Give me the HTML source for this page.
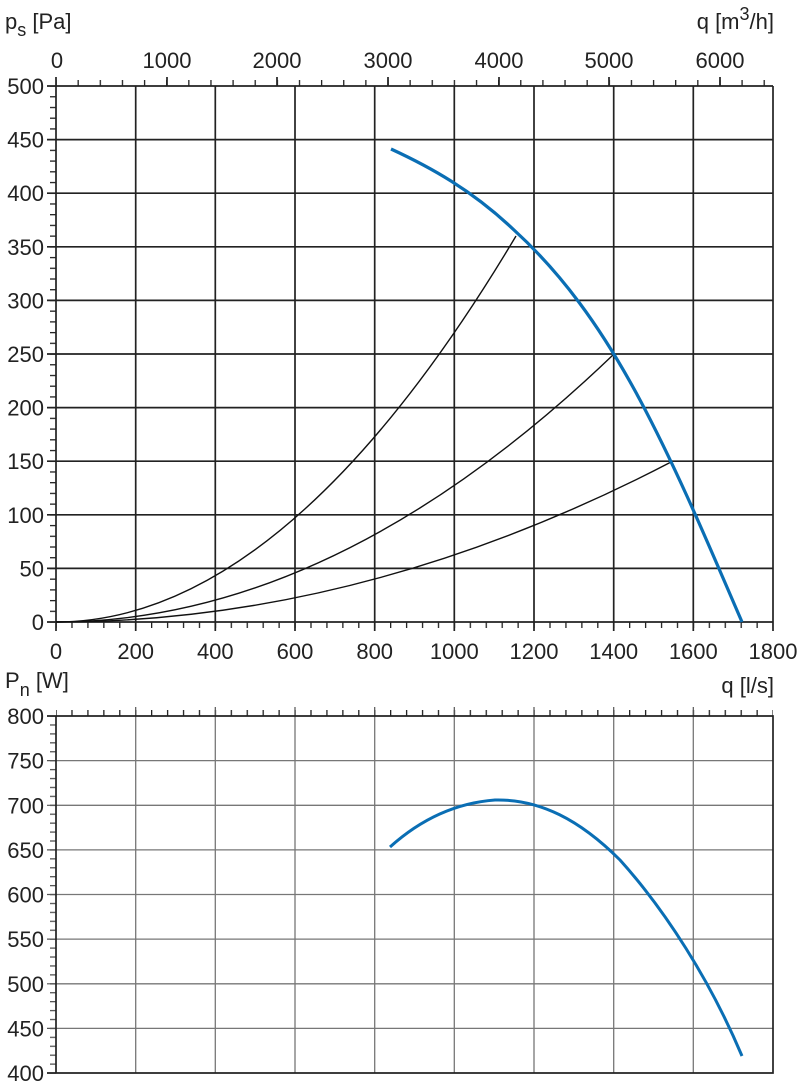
<!DOCTYPE html>
<html><head><style>
html,body{margin:0;padding:0;background:#fff;}
svg{display:block;font-family:"Liberation Sans",Arial,sans-serif;}
</style></head><body>
<svg width="800" height="1085" viewBox="0 0 800 1085" xmlns="http://www.w3.org/2000/svg">
<defs>
<pattern id="ty1" patternUnits="userSpaceOnUse" x="0" y="85.4" width="10" height="10.72"><rect x="0" y="0" width="10" height="1.3" fill="#222"/></pattern>
<pattern id="tx1" patternUnits="userSpaceOnUse" x="55.4" y="0" width="15.934" height="10"><rect x="0" y="0" width="1.3" height="10" fill="#222"/></pattern>
<pattern id="tm" patternUnits="userSpaceOnUse" x="55.4" y="0" width="22.13" height="10"><rect x="0" y="0" width="1.3" height="10" fill="#222"/></pattern>
<pattern id="ty2" patternUnits="userSpaceOnUse" x="0" y="715.4" width="10" height="8.925"><rect x="0" y="0" width="10" height="1.3" fill="#555"/></pattern>
</defs>

<rect x="50" y="86" width="6" height="537" fill="url(#ty1)"/>
<rect x="56" y="622" width="717" height="6" fill="url(#tx1)"/>
<rect x="56" y="80" width="717" height="6" fill="url(#tm)"/>
<g stroke="#222" stroke-width="1.7">
<path d="M56 77v9M167 77v9M277 77v9M388 77v9M499 77v9M609 77v9M720 77v9"/>
<path d="M47 86H773M47 139.6H773M47 193.2H773M47 246.8H773M47 300.4H773M47 354H773M47 407.6H773M47 461.2H773M47 514.8H773M47 568.4H773M47 622H773"/>
<path d="M56 86V631M135.7 86V631M215.3 86V631M295 86V631M374.7 86V631M454.3 86V631M534 86V631M613.7 86V631M693.3 86V631M773 86V631"/>
</g>
<g fill="none" stroke="#111" stroke-width="1.4">
<path d="M56 622Q286 622 516 236"/>
<path d="M56 622Q335 622 614 354"/>
<path d="M56 622Q364.5 622 673 461"/>
</g>
<path d="M391 149C430 167 472 190 514 230C560 272 600 325 640 400C680 475 715 560 742 622" fill="none" stroke="#0a6eb4" stroke-width="3.2"/>

<g font-size="22" fill="#222" text-anchor="end">
<text x="44" y="94">500</text><text x="44" y="147.6">450</text><text x="44" y="201.2">400</text>
<text x="44" y="254.8">350</text><text x="44" y="308.4">300</text><text x="44" y="362">250</text>
<text x="44" y="415.6">200</text><text x="44" y="469.2">150</text><text x="44" y="522.8">100</text>
<text x="44" y="576.4">50</text><text x="44" y="630">0</text>
</g>
<g font-size="22" fill="#222" text-anchor="middle">
<text x="56" y="659">0</text><text x="135.7" y="659">200</text><text x="215.3" y="659">400</text>
<text x="295" y="659">600</text><text x="374.7" y="659">800</text><text x="454.3" y="659">1000</text>
<text x="534" y="659">1200</text><text x="613.7" y="659">1400</text><text x="693.3" y="659">1600</text>
<text x="773" y="659">1800</text>
<text x="57" y="68">0</text><text x="167" y="68">1000</text><text x="277" y="68">2000</text>
<text x="388" y="68">3000</text><text x="499" y="68">4000</text><text x="609" y="68">5000</text>
<text x="720" y="68">6000</text>
</g>
<text x="5" y="29" font-size="22" fill="#222">p<tspan font-size="18" dy="7">s</tspan><tspan dy="-7"> [Pa]</tspan></text>
<text x="774" y="29" font-size="22" fill="#222" text-anchor="end">q [m<tspan font-size="18" dy="-9">3</tspan><tspan dy="9">/h]</tspan></text>
<text x="774" y="693" font-size="22" fill="#222" text-anchor="end">q [l/s]</text>
<text x="5" y="688" font-size="22" fill="#222">P<tspan font-size="18" dy="8">n</tspan><tspan dy="-8"> [W]</tspan></text>

<rect x="50" y="716" width="6" height="358" fill="url(#ty2)"/>
<rect x="56" y="710" width="717" height="6" fill="url(#tx1)"/>
<g stroke="#777" stroke-width="1.3">
<path d="M56 760.6H773M56 805.3H773M56 849.9H773M56 894.5H773M56 939.1H773M56 983.8H773M56 1028.4H773"/>
<path d="M135.7 716V1073M215.3 716V1073M295 716V1073M374.7 716V1073M454.3 716V1073M534 716V1073M613.7 716V1073M693.3 716V1073"/>
</g>
<g stroke="#555" stroke-width="1.2"><path d="M47 760.6h9M47 805.3h9M47 849.9h9M47 894.5h9M47 939.1h9M47 983.8h9M47 1028.4h9M135.7 707v9M215.3 707v9M295 707v9M374.7 707v9M454.3 707v9M534 707v9M613.7 707v9M693.3 707v9"/></g>
<g stroke="#222" stroke-width="1.7" fill="none">
<path d="M47 716H773V1073H47M56 716V1073"/>
</g>
<path d="M390 847C420 820 455 803 495 800C540 799 580 820 620 860C665 910 710 980 742 1056" fill="none" stroke="#0a6eb4" stroke-width="3"/>
<g font-size="22" fill="#222" text-anchor="end">
<text x="44" y="724">800</text><text x="44" y="768.6">750</text><text x="44" y="813.3">700</text>
<text x="44" y="857.9">650</text><text x="44" y="902.5">600</text><text x="44" y="947.1">550</text>
<text x="44" y="991.8">500</text><text x="44" y="1036.4">450</text><text x="44" y="1081">400</text>
</g>
</svg>
</body></html>
